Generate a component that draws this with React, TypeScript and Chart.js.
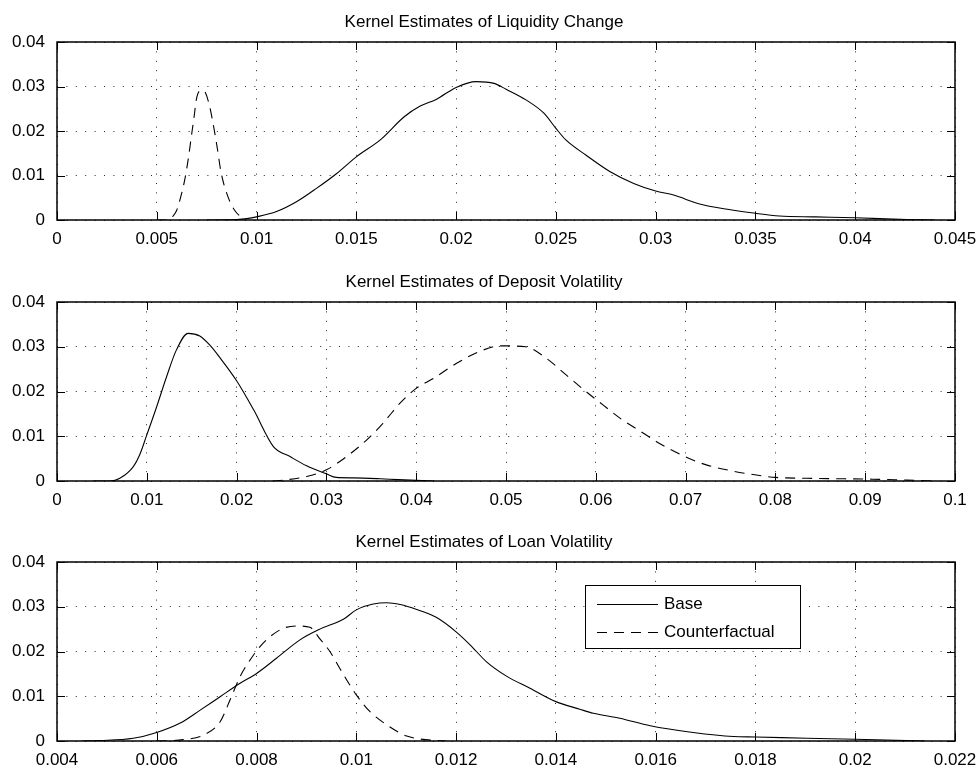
import React, { useEffect, useRef } from "react";
import { Chart, registerables } from "chart.js";

Chart.register(...registerables);

const FONT = "'Liberation Sans', Arial, Helvetica, sans-serif";

// ---------- shared ----------
const seriesLabels = ["Base", "Counterfactual"];
const yTicks = [0, 0.01, 0.02, 0.03, 0.04];

// ---------- panel 1: liquidity change ----------
const liqTitle = "Kernel Estimates of Liquidity Change";
const liqXTicks = [0, 0.005, 0.01, 0.015, 0.02, 0.025, 0.03, 0.035, 0.04, 0.045];
const liqBaseX = [0.0075, 0.0085, 0.009, 0.0095, 0.01, 0.011, 0.012, 0.013, 0.014, 0.015, 0.0162, 0.0174, 0.0182, 0.019, 0.02, 0.021, 0.0219, 0.0225, 0.0235, 0.0244, 0.025, 0.0255, 0.0265, 0.0277, 0.0289, 0.03, 0.0309, 0.0322, 0.0336, 0.035, 0.0362, 0.038, 0.04, 0.0426, 0.044];
const liqBaseY = [0, 0.00005, 0.0001, 0.0003, 0.0007, 0.0019, 0.0041, 0.0071, 0.0104, 0.0142, 0.018, 0.0232, 0.0256, 0.0271, 0.0298, 0.0311, 0.0307, 0.0294, 0.027, 0.024, 0.0206, 0.018, 0.0146, 0.0109, 0.0082, 0.0065, 0.0056, 0.0036, 0.0024, 0.0015, 0.0009, 0.0007, 0.0005, 0.0001, 0];
const liqCfX = [0.005, 0.0056, 0.0058, 0.006, 0.0062, 0.0064, 0.00657, 0.00673, 0.00687, 0.00698, 0.00715, 0.00728, 0.00745, 0.00765, 0.00785, 0.00802, 0.00823, 0.00857, 0.0089, 0.0094];
const liqCfY = [0, 0, 0.0008, 0.0022, 0.0052, 0.009, 0.0135, 0.0187, 0.0232, 0.027, 0.029, 0.0291, 0.0285, 0.0255, 0.021, 0.0165, 0.0105, 0.0052, 0.0022, 0];

// ---------- panel 2: deposit volatility ----------
const depTitle = "Kernel Estimates of Deposit Volatility";
const depXTicks = [0, 0.01, 0.02, 0.03, 0.04, 0.05, 0.06, 0.07, 0.08, 0.09, 0.1];
const depBaseX = [0.004, 0.0059, 0.007, 0.0085, 0.0092, 0.01, 0.0111, 0.0122, 0.0133, 0.0146, 0.0159, 0.017, 0.0182, 0.02, 0.0219, 0.0241, 0.026, 0.0278, 0.03, 0.0311, 0.033, 0.036, 0.038, 0.042];
const depBaseY = [0, 0, 0.0006, 0.0032, 0.0058, 0.0103, 0.0166, 0.0233, 0.0293, 0.033, 0.0324, 0.0304, 0.0274, 0.0224, 0.0159, 0.0077, 0.0054, 0.0034, 0.0016, 0.0008, 0.0007, 0.0005, 0.0003, 0];
const depCfX = [0.024, 0.0252, 0.0278, 0.03, 0.0322, 0.0345, 0.0363, 0.0382, 0.04, 0.0419, 0.0445, 0.047, 0.0494, 0.0522, 0.0545, 0.0567, 0.0589, 0.0608, 0.063, 0.0649, 0.0671, 0.07, 0.0723, 0.0753, 0.0787, 0.08, 0.0835, 0.0872, 0.0908, 0.0946, 0.098];
const depCfY = [0, 0.0002, 0.001, 0.0025, 0.0054, 0.0092, 0.0129, 0.0174, 0.0207, 0.0229, 0.0263, 0.0289, 0.0302, 0.03, 0.0274, 0.0237, 0.02, 0.017, 0.0136, 0.0112, 0.0084, 0.0054, 0.0036, 0.0022, 0.0011, 0.0008, 0.0006, 0.0005, 0.0004, 0.0002, 0];

// ---------- panel 3: loan volatility ----------
const loanTitle = "Kernel Estimates of Loan Volatility";
const loanXTicks = [0.004, 0.006, 0.008, 0.01, 0.012, 0.014, 0.016, 0.018, 0.02, 0.022];
const loanBaseX = [0.0045, 0.00486, 0.00553, 0.006, 0.00647, 0.00687, 0.00727, 0.00767, 0.008, 0.0084, 0.00887, 0.00927, 0.00974, 0.01, 0.01034, 0.01061, 0.01088, 0.01121, 0.01161, 0.012, 0.01228, 0.01261, 0.01301, 0.01348, 0.014, 0.01448, 0.01475, 0.01528, 0.01589, 0.01675, 0.01756, 0.018, 0.01903, 0.02, 0.02103, 0.0214];
const loanBaseY = [0, 0.0001, 0.0006, 0.0019, 0.004, 0.0069, 0.0099, 0.0129, 0.0151, 0.0185, 0.0226, 0.025, 0.0272, 0.0293, 0.0306, 0.0309, 0.0305, 0.0294, 0.0276, 0.0244, 0.0215, 0.0177, 0.0145, 0.0118, 0.0088, 0.0071, 0.0062, 0.0051, 0.0034, 0.0019, 0.001, 0.0009, 0.0006, 0.0004, 0.0001, 0];
const loanCfX = [0.006, 0.00653, 0.00693, 0.00727, 0.00747, 0.00767, 0.00787, 0.00807, 0.00827, 0.00854, 0.0088, 0.00907, 0.00927, 0.00947, 0.00967, 0.01, 0.01027, 0.01061, 0.01101, 0.01148, 0.0118];
const loanCfY = [0, 0.0003, 0.0013, 0.0043, 0.0092, 0.0144, 0.0181, 0.0211, 0.0233, 0.0252, 0.0257, 0.0254, 0.0228, 0.02, 0.0162, 0.0103, 0.0066, 0.0036, 0.0011, 0.0002, 0];

// ---------- helpers ----------
const fmt = (v: number) => String(Number(v.toFixed(4)));
const pts = (xs: number[], ys: number[]) => xs.map((x, i) => ({ x, y: ys[i] }));

const framePlugin = {
  id: "frame",
  afterDatasetsDraw(chart: any, _args: any, opts: any) {
    const { ctx, chartArea } = chart;
    const { left, right, top, bottom } = chartArea;
    const xs = chart.scales.x;
    const ys = chart.scales.y;
    ctx.save();
    ctx.strokeStyle = "#000";
    ctx.lineWidth = 1;
    ctx.setLineDash([]);
    const tl = 8;
    ctx.beginPath();
    xs.ticks.forEach((t: any) => {
      const px = Math.round(xs.getPixelForValue(t.value)) + 0.5;
      ctx.moveTo(px, bottom);
      ctx.lineTo(px, bottom - tl);
      ctx.moveTo(px, top);
      ctx.lineTo(px, top + tl);
    });
    ys.ticks.forEach((t: any) => {
      const py = Math.round(ys.getPixelForValue(t.value)) + 0.5;
      ctx.moveTo(left, py);
      ctx.lineTo(left + tl, py);
      ctx.moveTo(right, py);
      ctx.lineTo(right - tl, py);
    });
    ctx.stroke();
    ctx.lineWidth = 1.5;
    ctx.strokeRect(left, top, right - left, bottom - top);

    ctx.fillStyle = "#000";
    ctx.font = `17px ${FONT}`;
    ctx.textAlign = "center";
    ctx.textBaseline = "alphabetic";
    ctx.fillText(opts.title, opts.titleX, top - 15);

    if (opts.legend) {
      const L = opts.legend;
      ctx.fillStyle = "#fff";
      ctx.fillRect(L.x, L.y, L.w, L.h);
      ctx.lineWidth = 1;
      ctx.strokeStyle = "#000";
      ctx.strokeRect(L.x + 0.5, L.y + 0.5, L.w, L.h);
      chart.data.datasets.forEach((ds: any, i: number) => {
        const yy = L.y + L.row0 + i * L.rowGap;
        ctx.beginPath();
        ctx.setLineDash(ds.borderDash || []);
        ctx.lineWidth = 1;
        ctx.moveTo(L.x + 12, yy + 0.5);
        ctx.lineTo(L.x + 73, yy + 0.5);
        ctx.stroke();
        ctx.setLineDash([]);
        ctx.fillStyle = "#000";
        ctx.textAlign = "left";
        ctx.textBaseline = "middle";
        ctx.fillText(ds.label, L.x + 79, yy);
      });
    }
    ctx.restore();
  },
};

type PanelCfg = {
  top: number;
  height: number;
  xAxisH: number;
  xMin: number;
  xMax: number;
  xTicks: number[];
  title: string;
  base: { x: number; y: number }[];
  cf: { x: number; y: number }[];
  legend?: any;
};

function Panel({ cfg }: { cfg: PanelCfg }) {
  const ref = useRef<HTMLCanvasElement>(null);
  useEffect(() => {
    const gridCommon = { color: "rgba(0,0,0,0.85)", lineWidth: 1, drawTicks: false };
    const chart = new Chart(ref.current as HTMLCanvasElement, {
      type: "line",
      data: {
        datasets: [
          {
            label: seriesLabels[0],
            data: cfg.base,
            borderColor: "#000",
            borderWidth: 1.1,
            pointRadius: 0,
            fill: false,
            cubicInterpolationMode: "monotone",
          },
          {
            label: seriesLabels[1],
            data: cfg.cf,
            borderColor: "#000",
            borderWidth: 1.1,
            borderDash: [10, 7],
            pointRadius: 0,
            fill: false,
            cubicInterpolationMode: "monotone",
          },
        ],
      },
      options: {
        responsive: false,
        animation: false,
        events: [],
        layout: { padding: { top: 42, right: 24, left: 0, bottom: 0 } },
        plugins: {
          legend: { display: false },
          title: { display: false },
          tooltip: { enabled: false },
          frame: { title: cfg.title, titleX: 484, legend: cfg.legend },
        } as any,
        scales: {
          x: {
            type: "linear",
            min: cfg.xMin,
            max: cfg.xMax,
            afterBuildTicks: (s: any) => {
              s.ticks = cfg.xTicks.map((v) => ({ value: v }));
            },
            afterFit: (s: any) => {
              s.height = cfg.xAxisH;
              s.paddingLeft = 0;
              s.paddingRight = 0;
            },
            ticks: {
              autoSkip: false,
              maxRotation: 0,
              padding: 9,
              color: "#000",
              font: { family: FONT, size: 17 },
              callback: (v: any) => fmt(Number(v)),
            },
            grid: gridCommon,
            border: { display: false, dash: [1, 8.4] },
          },
          y: {
            type: "linear",
            min: 0,
            max: 0.04,
            afterBuildTicks: (s: any) => {
              s.ticks = yTicks.map((v) => ({ value: v }));
            },
            afterFit: (s: any) => {
              s.width = 57;
              s.paddingTop = 0;
              s.paddingBottom = 0;
            },
            ticks: {
              autoSkip: false,
              padding: 12,
              color: "#000",
              font: { family: FONT, size: 17 },
              callback: (v: any) => fmt(Number(v)),
            },
            grid: gridCommon,
            border: { display: false, dash: [1, 8.4] },
          },
        },
      } as any,
      plugins: [framePlugin as any],
    });
    return () => chart.destroy();
  }, []);
  return (
    <canvas
      ref={ref}
      width={979}
      height={cfg.height}
      style={{ position: "absolute", left: 0, top: cfg.top, width: 979, height: cfg.height }}
    />
  );
}

const panels: PanelCfg[] = [
  {
    top: 0,
    height: 260,
    xAxisH: 40,
    xMin: 0,
    xMax: 0.045,
    xTicks: liqXTicks,
    title: liqTitle,
    base: pts(liqBaseX, liqBaseY),
    cf: pts(liqCfX, liqCfY),
  },
  {
    top: 260,
    height: 260,
    xAxisH: 39,
    xMin: 0,
    xMax: 0.1,
    xTicks: depXTicks,
    title: depTitle,
    base: pts(depBaseX, depBaseY),
    cf: pts(depCfX, depCfY),
  },
  {
    top: 520,
    height: 254,
    xAxisH: 33,
    xMin: 0.004,
    xMax: 0.022,
    xTicks: loanXTicks,
    title: loanTitle,
    base: pts(loanBaseX, loanBaseY),
    cf: pts(loanCfX, loanCfY),
    legend: { x: 585, y: 65, w: 215, h: 63, row0: 19, rowGap: 28 },
  },
];

export default function App() {
  return (
    <div
      style={{
        position: "absolute",
        left: 0,
        top: 0,
        width: 979,
        height: 774,
        overflow: "hidden",
        background: "#fff",
      }}
    >
      {panels.map((p, i) => (
        <Panel key={i} cfg={p} />
      ))}
    </div>
  );
}
